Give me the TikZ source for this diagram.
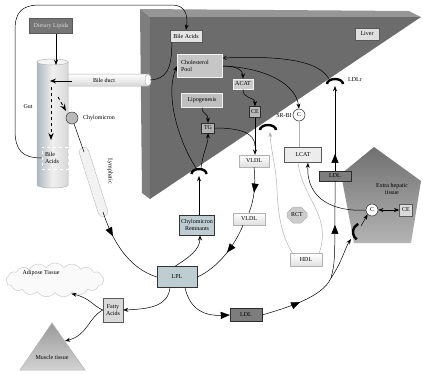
\documentclass[tikz,border=0pt]{standalone}
\usepackage{fontspec}
\setmainfont{Liberation Serif}
\usetikzlibrary{arrows.meta, calc, shapes.misc, shapes.symbols, decorations.markings}
\definecolor{liverfront}{RGB}{108,108,108}
\definecolor{livertop}{RGB}{150,150,150}
\definecolor{liverside}{RGB}{126,126,126}
\definecolor{tealgray}{RGB}{190,205,210}
\definecolor{gutgray}{RGB}{176,184,190}
\definecolor{ldlgray}{RGB}{125,125,125}
\definecolor{dietgray}{RGB}{118,118,118}
\definecolor{xhdark}{RGB}{112,112,112}
\definecolor{xhlight}{RGB}{180,180,180}

\tikzset{
  every node/.style={font=\fontsize{6}{6.8}\selectfont, inner sep=1pt},
  lbox/.style={draw=gray!70!black, fill=gray!15, line width=0.4pt},
  wbox/.style={draw=gray!10, line width=1pt, fill=gray!45},
  dbox/.style={draw=gray!35!black, fill=gray!60, line width=0.4pt},
  vbox/.style={draw=gray!60, top color=white, bottom color=gray!25, line width=0.4pt},
  tbox/.style={draw=gray!40!black, fill=tealgray, line width=0.4pt},
  circ/.style={circle, draw=gray!30!black, fill=white, inner sep=0.5pt, minimum size=12},
  receptor/.style={line width=2.4pt, black},
  thinline/.style={gray!60, line width=0.5pt},
  midtri/.style={postaction={decorate}, decoration={markings, mark=at position #1 with {\arrow{Triangle[width=7pt,length=9pt]}}}},
  bigtip/.style={-{Triangle[width=7pt,length=9pt]}},
}

\begin{document}
\begin{tikzpicture}[x=1pt, y=-1pt, >=Stealth, line width=0.5pt]
  \useasboundingbox (0,0) rectangle (423,373);
  % liver block
  \fill[livertop] (140,9) -- (409,11) -- (421,17) -- (150,17) -- cycle;
  \fill[liverside] (140,9) -- (150,17) -- (150,199) -- (142,193) -- cycle;
  \fill[liverfront] (150,17) -- (421,17) -- (150,199) -- cycle;
  % extra hepatic tissue
  \shade[top color=xhdark, bottom color=xhlight] (374,147) -- (421,181) -- (411,243) -- (354,243) -- (341,174) -- cycle;
  % gut
  \shade[left color=gutgray, right color=gray!30, middle color=gray!12, draw=gray!60] (37,62) -- (37,185) arc[start angle=180, end angle=0, x radius=15.5, y radius=3] -- (68,62) -- cycle;
  \draw[gray!60, fill=gray!8] (52.5,62) ellipse[x radius=15.5, y radius=3];
  % bile duct
  \shade[top color=white, bottom color=gray!30, draw=gray!60] (68,74) -- (148,74) arc[start angle=-90, end angle=90, x radius=3, y radius=6] -- (68,86) -- cycle;
  \draw[gray!60, fill=white] (148,80) ellipse[x radius=3, y radius=6];
  % lymphatic
  \coordinate (lymphT) at (84,152);
  \coordinate (lymphB) at (103,212);
  \draw[line width=10pt, line cap=round, gray!55] (lymphT) -- (lymphB);
  \draw[line width=9pt, line cap=round, gray!10] (lymphT) -- (lymphB);
  % adipose and muscle
  \node[cloud, cloud puffs=17, cloud puff arc=110, aspect=3.2, draw=gray!40, fill=gray!4, minimum width=98, minimum height=34] (adipose) at (55,280) {};
  \shade[top color=gray!80, bottom color=gray!35, draw=gray!60] (52,323) -- (85,370) -- (20,370) -- cycle;

  % labels and boxes
  \node[lbox, minimum width=43, minimum height=15, fill=dietgray, text=white!85!black] (diet) at (51,26) {Dietary Lipids};
  \node (gutlbl) at (28,107) {Gut};
  \node (ductlbl) at (104,80) {Bile duct};
  \node[draw=white, dashed, minimum width=26, minimum height=22, text width=20, align=left] (bileG) at (55,158) {Bile\\Acids};
  \node[circle, fill=gray!55, draw=gray!40!black, minimum size=12, inner sep=0pt] (chylo) at (72,118) {};
  \node (chylolbl) at (99,118) {Chylomicron};
  \node[rotate=-90] (lymphlbl) at (110,171) {Lymphatic};
  \node (adlbl) at (41,273) {Adipose Tissue};
  \node (muscle) at (52,357) {Muscle tissue};
  \node[lbox, minimum width=20, minimum height=24, fill=gray!30, align=center] (fatty) at (113,310) {Fatty\\Acids};

  \node[lbox, minimum width=32, minimum height=12, fill=gray!22] (bileL) at (186,36) {Bile Acids};
  \node[lbox, minimum width=24, minimum height=12, fill=gray!25] (liverlbl) at (367,34) {Liver};
  \node[wbox, minimum width=45, minimum height=23, text width=38, align=left] (cpool) at (200,66) {Cholesterol\\Pool};
  \node[wbox, minimum width=41, minimum height=14, fill=gray!50] (lipo) at (202,100) {Lipogenesis};
  \node[wbox, minimum width=20, minimum height=10, fill=gray!40, line width=0.6pt] (acat) at (243,84) {ACAT};
  \node[dbox, minimum width=11, minimum height=11, fill=gray!55] (ce) at (255,112) {CE};
  \node[dbox, minimum width=13, minimum height=10] (tg) at (208,128) {TG};
  \node[circ] (cL) at (299,115) {C};
  \node (srbi) at (284,116) {SR-BI};
  \node (ldlrlbl) at (355,80) {LDLr};
  \node[lbox, minimum width=37, minimum height=15] (lcat) at (303,155) {LCAT};
  \node[dbox, minimum width=32, minimum height=10, fill=ldlgray] (ldlU) at (335,176) {LDL};
  \node[vbox, minimum width=30, minimum height=12] (vldlU) at (254,161) {VLDL};
  \node[vbox, minimum width=32, minimum height=12] (vldlL) at (249,219) {VLDL};
  \node[tbox, minimum width=35, minimum height=20, align=center] (remn) at (197,225) {Chylomicron\\Remnants};
  \node[tbox, minimum width=40, minimum height=21] (lpl) at (177,277) {LPL};
  \node[chamfered rectangle, draw=gray!60, fill=gray!40, minimum width=20, minimum height=16] (rct) at (297,215) {RCT};
  \node[vbox, minimum width=32, minimum height=13] (hdl) at (306,260) {HDL};
  \node[dbox, minimum width=32, minimum height=13, fill=ldlgray] (ldlL) at (246,315) {LDL};
  \node[align=center] (xhlbl) at (392,189) {Extra hepatic\\tissue};
  \node[circ] (cX) at (372,210) {C};
  \node[lbox, minimum width=13, minimum height=12, fill=gray!30] (ceX) at (406,210) {CE};

  % free ends
  \coordinate (gutin) at (56,65);
  \coordinate (ductL) at (72,81);
  \coordinate (gutarr) at (50,81);
  \coordinate (dashA) at (51,87);
  \coordinate (dashB) at (51,140);
  \coordinate (dashC) at (58,97);
  \coordinate (dashD) at (66,111);
  \coordinate (ductR) at (150,80);
  \coordinate (muscR) at (65,341);
  \coordinate (recTGin) at (199,176);
  \coordinate (recTGtop) at (199,168);
  \coordinate (recSRin) at (270,132);
  \coordinate (recLDLr) at (335,86);
  \coordinate (recLDLrtop) at (329,79);
  \coordinate (recXin) at (351,239);
  \coordinate (recXout) at (361,226);
  \coordinate (tgjoin) at (255,146);
  \coordinate (ldlS) at (331,278);

  % gut and bile
  \draw[->] (bileG.west) .. controls (22,158) and (15,150) .. (15,130) -- (15,30) .. controls (15,12) and (22,5) .. (40,5) -- (172,5) .. controls (186,5) and (188,16) .. (bileL.north);
  \draw[->] (diet.south -| gutin) -- (gutin);
  \draw[-{Stealth[length=6pt,width=5pt]}, line width=1pt] (ductL) -- (gutarr);
  \draw[dashed, line width=0.9pt, ->] (dashA) -- (dashB);
  \draw[dashed, line width=0.9pt, ->] (dashC) -- (dashD);
  \draw (chylo) -- (lymphT);
  \draw ([xshift=2pt]bileL.south west) .. controls (172,70) and (166,79) .. (ductR);
  \draw[midtri=0.3] (lymphB) .. controls (112,240) and (128,268) .. (lpl.west);

  % liver paths
  \draw[->] (recTGin |- remn.north) -- (recTGin);
  \draw[->] ([xshift=-3pt]recTGtop) .. controls (178,140) and (165,95) .. (cpool.west);
  \draw[->] ([xshift=2pt]recTGtop) .. controls (203,152) and (208,145) .. (tg.south);
  \draw[->] (lipo.south) .. controls (202,115) and (208,112) .. (tg.north);
  \draw[->] (cpool.east) .. controls (236,66) and (243,70) .. (acat.north);
  \draw[->] (cpool.east) .. controls (268,68) and (296,85) .. (cL.north);
  \draw[->] (acat.south) .. controls (243,100) and (255,96) .. (ce.north);
  \draw[->] (ce.south) -- (ce.south |- vldlU.north);
  \draw (tg.east) .. controls (238,128) and (255,132) .. (tgjoin);
  \draw[midtri=0.55] (vldlU.south) .. controls (256,185) and (254,200) .. (vldlL.north);
  \draw[midtri=0.45] ([xshift=-6pt]vldlL.south) .. controls (235,245) and (218,268) .. (lpl.east);

  % LPL paths
  \draw[->] ([xshift=-2pt]lpl.north) .. controls (188,258) and (200,250) .. ([xshift=3pt]remn.south);
  \draw[-{Stealth[length=5pt,width=4pt]}] ([xshift=-7pt]lpl.south) .. controls (168,306) and (150,309) .. (fatty.east);
  \draw[bigtip] ([xshift=8pt]lpl.south) .. controls (190,310) and (205,316) .. (ldlL.west);
  \draw[->] (fatty.west) .. controls (93,306) and (90,298) .. (adipose.-40);
  \draw[->] (fatty.west) .. controls (88,318) and (88,335) .. (muscR);

  % HDL, LCAT and LDL
  \draw[thinline, ->] ([xshift=3pt]hdl.north west) .. controls (282,238) and (278,215) .. (277,190) .. controls (276,165) and (271,152) .. (recSRin);
  \draw[thinline] ([xshift=-5pt]lcat.south) .. controls (303,200) and (332,215) .. ([xshift=-3pt]hdl.north east);
  \draw[thinline] (cL.south) -- (cL.south |- lcat.north);
  \draw[->] (cX.west) .. controls (335,212) and (306,200) .. ([xshift=5pt]lcat.south);
  \draw[{Stealth}-{Stealth}] (cX) -- (ceX);
  \draw[->] (recXout) -- (cX.south west);
  \draw[midtri=0.5] (ldlL.east) .. controls (285,308) and (322,298) .. (ldlS);
  \draw[midtri=0.55] (ldlS) .. controls (335,262) .. (ldlU.south);
  \draw[->] (ldlS) .. controls (342,262) and (345,248) .. (recXin);
  \draw[midtri=0.2, ->] (ldlU.north) -- (recLDLr);
  \draw[-{Straight Barb[length=3pt,width=4pt]}] (recLDLrtop) .. controls (318,58) and (270,56) .. ([yshift=-4pt]cpool.north east);

  % receptors
  \draw[receptor] (191.5,174) arc[start angle=180, end angle=360, x radius=7.5, y radius=5];
  \draw[receptor] (260,130) arc[start angle=180, end angle=360, x radius=8, y radius=5];
  \draw[receptor] (327,84) arc[start angle=180, end angle=360, x radius=8, y radius=5];
  \draw[receptor] (356.8,239.4) arc[start angle=125, end angle=245, radius=9];
\end{tikzpicture}
\end{document}
